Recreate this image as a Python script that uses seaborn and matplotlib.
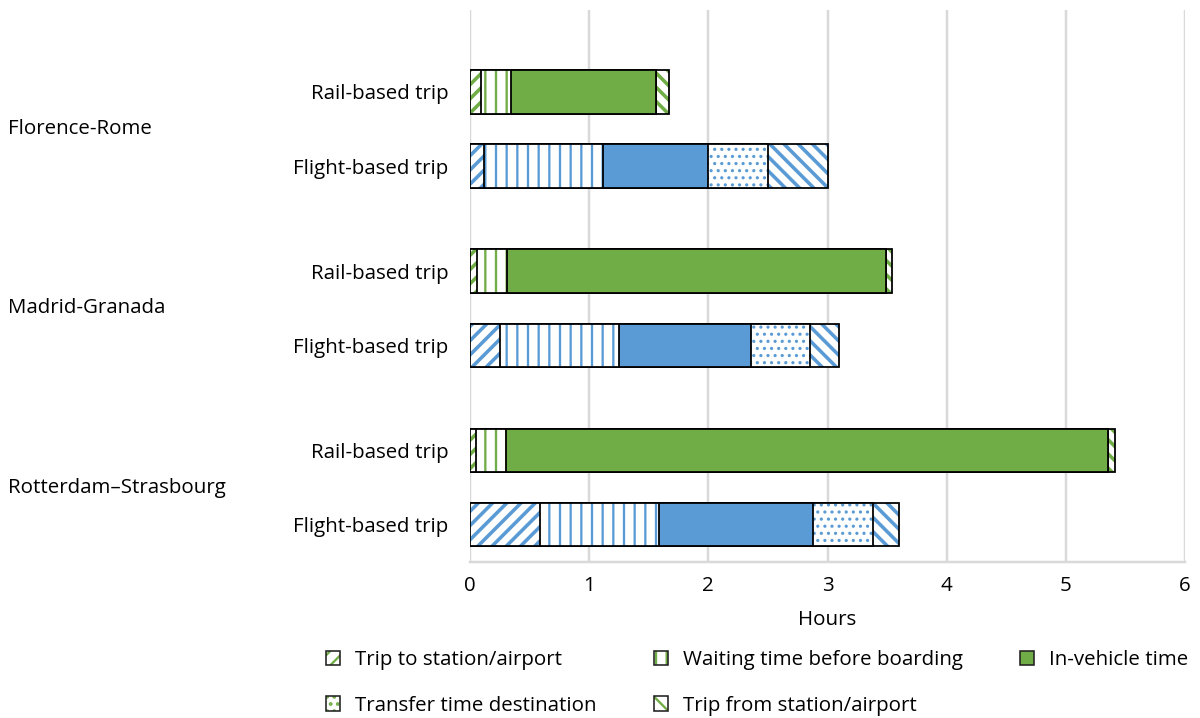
import numpy as np
import pandas as pd
import matplotlib
matplotlib.use("Agg")
import matplotlib.pyplot as plt
from matplotlib.patches import Patch
from matplotlib.legend_handler import HandlerTuple
import seaborn as sns

# Travel time components (hours) per route and mode
routes = ["Florence-Rome", "Madrid-Granada", "Rotterdam\u2013Strasbourg"]
modes = ["Rail-based trip", "Flight-based trip"]
segments = ["Trip to station/airport", "Waiting time before boarding",
            "In-vehicle time", "Transfer time destination",
            "Trip from station/airport"]

rail_trip_to = [0.09, 0.06, 0.05]
rail_waiting = [0.25, 0.25, 0.25]
rail_in_vehicle = [1.22, 3.18, 5.05]
rail_transfer = [0.0, 0.0, 0.0]
rail_trip_from = [0.11, 0.05, 0.06]

flight_trip_to = [0.12, 0.25, 0.59]
flight_waiting = [1.00, 1.00, 1.00]
flight_in_vehicle = [0.88, 1.11, 1.29]
flight_transfer = [0.50, 0.49, 0.50]
flight_trip_from = [0.50, 0.25, 0.22]

xticks = [0, 1, 2, 3, 4, 5, 6]

GREEN = "#70AD47"
BLUE = "#5B9BD5"
hatches = ["///", "||", None, "...", "\\\\\\"]
hatch_lw = [2.0, 1.3, None, 1.0, 2.0]

DPI = 128
FS = 11.5
sns.set_theme(style="white")
plt.rcParams["font.family"] = ["Open Sans", "DejaVu Sans"]
plt.rcParams["text.color"] = "black"
plt.rcParams["hatch.linewidth"] = 1.3

fig = plt.figure(figsize=(1200 / DPI, 718 / DPI), dpi=DPI)
ax = fig.add_axes([470 / 1200, 1 - 562 / 718, 715 / 1200, 552 / 718])

# vertical slot of each bar: rail and flight bars per route, wider gap between routes
group_step = 2.39
pair_step = 0.99
rail_pos = np.array([i * group_step for i in range(3)])
flight_pos = rail_pos + pair_step
bar_h = 0.58

data = {
    "Rail-based trip": (rail_pos, GREEN,
                        [rail_trip_to, rail_waiting, rail_in_vehicle,
                         rail_transfer, rail_trip_from]),
    "Flight-based trip": (flight_pos, BLUE,
                          [flight_trip_to, flight_waiting, flight_in_vehicle,
                           flight_transfer, flight_trip_from]),
}


def style_hatch(p, k, color):
    if hatches[k] is None:
        p.set_facecolor(color)
        p.set_edgecolor(color)
    else:
        p.set_facecolor("white")
        p.set_edgecolor(color)
        p.set_hatch(hatches[k])
        if hasattr(p, "set_hatch_linewidth"):
            p.set_hatch_linewidth(hatch_lw[k])


for mode, (pos, color, parts) in data.items():
    cum = np.cumsum(np.array(parts), axis=0)
    width = bar_h / np.min(np.diff(pos))
    # outermost cumulative bar first, inner ones drawn on top
    for k in range(len(segments) - 1, -1, -1):
        df = pd.DataFrame({"y": pos, "x": cum[k]})
        # fill / hatch layer
        n0 = len(ax.patches)
        sns.barplot(data=df, x="x", y="y", orient="h", native_scale=True,
                    width=width, color=color, saturation=1, errorbar=None,
                    ax=ax)
        for p in ax.patches[n0:]:
            style_hatch(p, k, color)
            p.set_linewidth(0)
            p.set_zorder(3)
        # outline layer
        n0 = len(ax.patches)
        sns.barplot(data=df, x="x", y="y", orient="h", native_scale=True,
                    width=width, color=color, saturation=1, errorbar=None,
                    ax=ax)
        for p in ax.patches[n0:]:
            p.set_facecolor("none")
            p.set_edgecolor("black")
            p.set_linewidth(1.0)
            p.set_zorder(3)

ax.set_xlim(0, 6)
ax.set_ylim(-1.093 + 7.36, -1.093)
ax.set_xticks(xticks)
ax.set_xticklabels([str(t) for t in xticks], fontsize=FS, color="black")
ax.tick_params(axis="x", length=0, pad=8)
ytick_pos = np.ravel(np.column_stack([rail_pos, flight_pos]))
ax.set_yticks(ytick_pos)
ax.set_yticklabels(modes * 3, fontsize=FS, color="black")
ax.tick_params(axis="y", length=0, pad=12)
ax.set_xlabel("Hours", fontsize=FS, color="black", labelpad=8)
ax.set_ylabel("")

ax.grid(axis="x", color="#D9D9D9", linewidth=1.4, zorder=0)
ax.grid(axis="y", visible=False)
ax.set_axisbelow(True)
for s in ["top", "right", "left"]:
    ax.spines[s].set_visible(False)
ax.spines["bottom"].set_color("#D9D9D9")
ax.spines["bottom"].set_linewidth(1.4)

# route labels centred between each pair of bars
for r, y in zip(routes, (rail_pos + flight_pos) / 2):
    fy = ax.transData.transform((0, y))[1]
    fy = fig.transFigure.inverted().transform((0, fy))[1]
    fig.text(8 / 1200, fy, r, fontsize=FS, ha="left", va="center",
             color="black")

# legend: hatched swatch in green with a dark outline on top
handles = []
for k, name in enumerate(segments):
    if hatches[k] is None:
        fill = Patch(facecolor=GREEN, edgecolor=GREEN, linewidth=0)
    else:
        fill = Patch(facecolor="white", edgecolor=GREEN, hatch=hatches[k],
                     linewidth=0)
    outline = Patch(facecolor="none", edgecolor="#222222", linewidth=0.9)
    handles.append((fill, outline))

columns = [[0, 3], [1, 4], [2]]
col_x = [326, 654, 1020]
for idx, x0 in zip(columns, col_x):
    fig.legend([handles[i] for i in idx], [segments[i] for i in idx],
               handler_map={tuple: HandlerTuple(ndivide=1)},
               loc="upper left", bbox_to_anchor=(x0 / 1200, 1 - 650 / 718),
               ncol=1, frameon=False, fontsize=FS, handlelength=0.7,
               handleheight=0.7, handletextpad=0.7, labelspacing=1.25,
               borderpad=0, borderaxespad=0)

fig.savefig("out.png", dpi=DPI)
